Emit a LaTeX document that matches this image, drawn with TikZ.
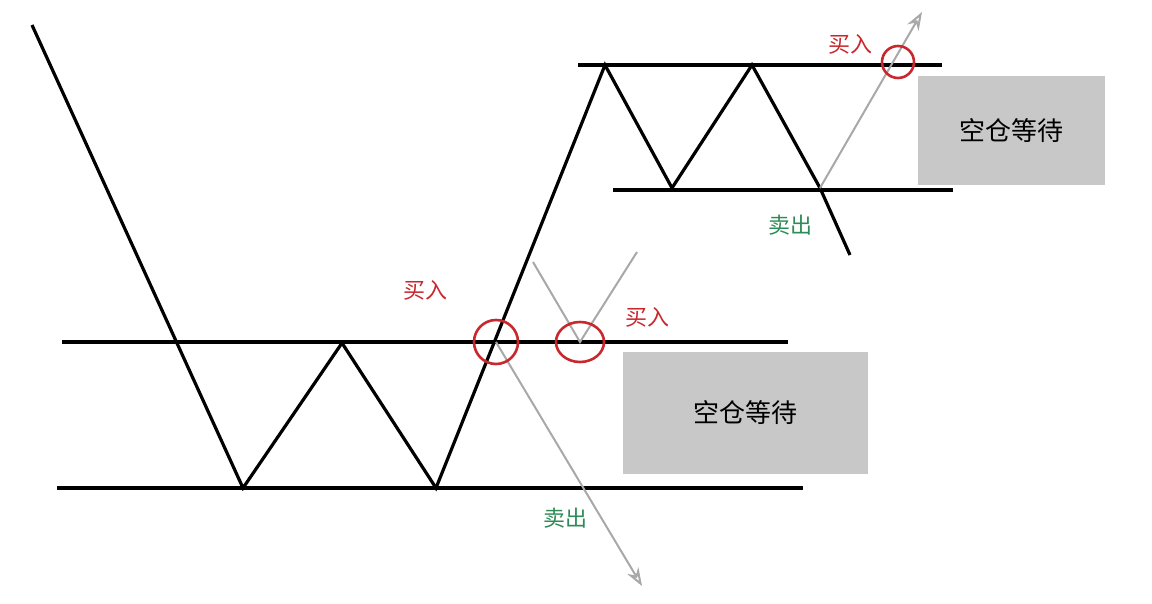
\documentclass[tikz,border=0pt]{standalone}
\usepackage{fontspec}
\newfontfamily\cjk{Noto Sans CJK SC}
\usetikzlibrary{arrows.meta}
\definecolor{buyred}{HTML}{C8282D}
\definecolor{sellgreen}{HTML}{2E8B57}
\definecolor{boxgray}{HTML}{C8C8C8}
\definecolor{arrgray}{HTML}{A8A8A8}
\tikzset{
  price/.style={black,line width=3.2pt,line join=miter},
  level/.style={black,line width=3.2pt},
  guide/.style={arrgray,line width=2pt},
  guidearrow/.style={guide,-{Stealth[length=18pt,width=13pt,open]}},
  ring/.style={buyred,line width=2.6pt},
  buylbl/.style={buyred,font=\cjk\fontsize{22}{22}\selectfont},
  selllbl/.style={sellgreen,font=\cjk\fontsize{22}{22}\selectfont},
  waitbox/.style={fill=boxgray,font=\cjk\fontsize{26}{26}\selectfont}
}
\begin{document}
\begin{tikzpicture}[x=1pt,y=-1pt]
\useasboundingbox (0,0) rectangle (1152,604);
% levels
\draw[level] (62,342) -- (788,342);
\draw[level] (57,488) -- (803,488);
\draw[level] (578,65) -- (942,65);
\draw[level] (613,190) -- (953,190);
% boxes
\node[waitbox,minimum width=245pt,minimum height=122pt] (w1) at (745.5,413) {空仓等待};
\node[waitbox,minimum width=187pt,minimum height=109pt] (w2) at (1011.5,130.5) {空仓等待};
% price path
\coordinate (p0) at (32,25);
\coordinate (p1) at (243,488);
\coordinate (p2) at (342,343);
\coordinate (p3) at (436,488);
\coordinate (p4) at (605,65);
\coordinate (p5) at (672,188);
\coordinate (p6) at (752,65);
\coordinate (p7) at (820,188);
\coordinate (p8) at (850,255);
\draw[price] (p0) -- (p1) -- (p2) -- (p3) -- (p4) -- (p5) -- (p6) -- (p7) -- (p8);
% guides
\coordinate (c1) at (496,342);
\coordinate (c2) at (580,342);
\coordinate (c3) at (898,62);
\coordinate (e1) at (642,586);
\coordinate (e2) at (922,12);
\coordinate (v1) at (533,262);
\coordinate (v2) at (637,252);
\draw[guidearrow] (c1) -- (e1);
\draw[guide] (v1) -- (c2) -- (v2);
\draw[guidearrow] (p7) -- (e2);
% rings
\draw[ring] (c1) circle[radius=22pt];
\draw[ring] (c2) ellipse[x radius=24pt,y radius=20pt];
\draw[ring] (c3) circle[radius=16pt];
% labels
\node[buylbl] (b1) at (425,290) {买入};
\node[buylbl] (b2) at (647,317) {买入};
\node[buylbl] (b3) at (850,44) {买入};
\node[selllbl] (s1) at (565,518) {卖出};
\node[selllbl] (s2) at (790,225) {卖出};
\end{tikzpicture}
\end{document}
